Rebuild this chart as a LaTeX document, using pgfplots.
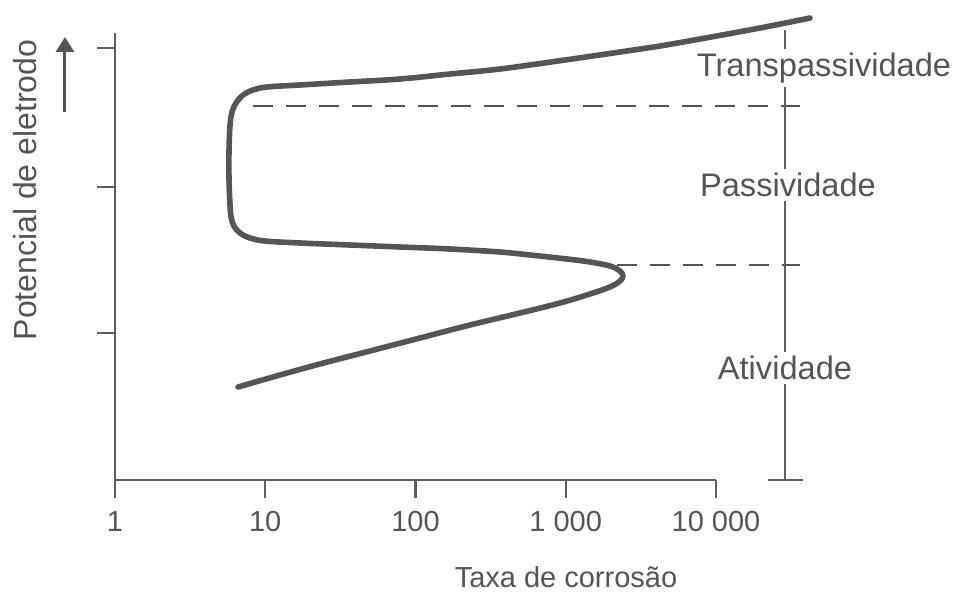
\documentclass[border=0pt]{standalone}
\usepackage{pgfplots}
\pgfplotsset{compat=1.18}
\usepackage{fontspec}
\setmainfont{Liberation Sans}
\usetikzlibrary{arrows.meta}

\definecolor{curvegray}{HTML}{555555}
\definecolor{axisgray}{HTML}{5E5E5E}
\definecolor{textgray}{HTML}{555555}

\newcommand{\lbl}{\fontsize{14.5}{17}\selectfont}
\newcommand{\ylbl}{\fontsize{16}{19}\selectfont}
\newcommand{\reg}{\fontsize{16.3}{19}\selectfont}

\begin{document}
\begin{tikzpicture}
\begin{axis}[
  at={(0,0)}, anchor=south west,
  scale only axis,
  width=300.5pt, height=223.5pt,
  xmode=log, log basis x=10,
  xmin=1, xmax=10000,
  ymin=0, ymax=447,
  clip=false,
  axis x line=bottom, axis y line=left,
  axis line style={-, color=axisgray, line width=1.2pt},
  tick style={color=axisgray, line width=1.2pt},
  tick align=outside,
  major tick length=9pt,
  xminorticks=false, yminorticks=false,
  xtick={1,10,100,1000,10000},
  xticklabels={1,10,100,1 000,10 000},
  xticklabel style={font=\lbl, text=textgray, anchor=center, yshift=-12pt},
  ytick={147,293,432},
  yticklabels={},
  xlabel={Taxa de corrosão},
  ylabel={Potencial de eletrodo},
  xlabel style={font=\lbl, text=textgray, at={(axis description cs:0.7504,-0.217)}, anchor=center},
  ylabel style={font=\ylbl, text=textgray, at={(axis description cs:-0.1498,0.6488)}, anchor=center},
]

% polarization curve: activity, passivity, transpassivity
\addplot[color=curvegray, line width=2.8pt, smooth, tension=0.6, line join=round, line cap=round] coordinates {
  (6.59,93) (12.54,105) (23.1,116) (49.8,129) (107.1,142) (230.5,155)
  (496,167) (915.5,177) (1450,186) (1970,193) (2296,199) (2405,204)
  (2296,209) (1970,214) (1450,218) (1019,221) (578,225) (365,228)
  (169.7,231) (78.8,233) (36.6,235) (17.03,237) (9.96,239) (7.92,242)
  (6.79,247) (6.19,254) (5.92,263) (5.83,275) (5.74,300) (5.74,330)
  (5.83,355) (6.01,368) (6.39,377) (7.11,385) (8.29,390) (10.27,393)
  (17.03,395) (36.6,398) (78.8,401) (169.7,406) (365,411) (988,420)
  (2296,428) (4239,434) (7826,441) (19630,452) (42230,462)
};

% region boundaries
\draw[color=curvegray, line width=1.3pt, dash pattern=on 10pt off 6.5pt]
  (axis cs:8.29,374) -- (axis cs:36240,374);
\draw[color=curvegray, line width=1.3pt, dash pattern=on 10pt off 6.5pt]
  (axis cs:2193,215) -- (axis cs:36240,215);

% vertical scale bar for the regions
\draw[color=axisgray, line width=1.2pt] (axis cs:28790,0) -- (axis cs:28790,450);
\draw[color=axisgray, line width=1.2pt] (axis cs:22190,0) -- (axis cs:37930,0);

\node[font=\reg, text=textgray, fill=white, inner sep=2pt] at (axis cs:52360,412) {Transpassividade};
\node[font=\reg, text=textgray, fill=white, inner sep=2pt] at (axis cs:30150,295) {Passividade};
\node[font=\reg, text=textgray, fill=white, inner sep=2pt] at (axis cs:28790,112) {Atividade};
\end{axis}

% direction of increasing potential
\draw[color=curvegray, line width=1.5pt, -{Triangle[length=7.5pt,width=9pt]}] (-25pt,184pt) -- (-25pt,221.5pt);

\path (-57.5pt,-57.5pt) rectangle (422.5pt,240pt);
\end{tikzpicture}
\end{document}
